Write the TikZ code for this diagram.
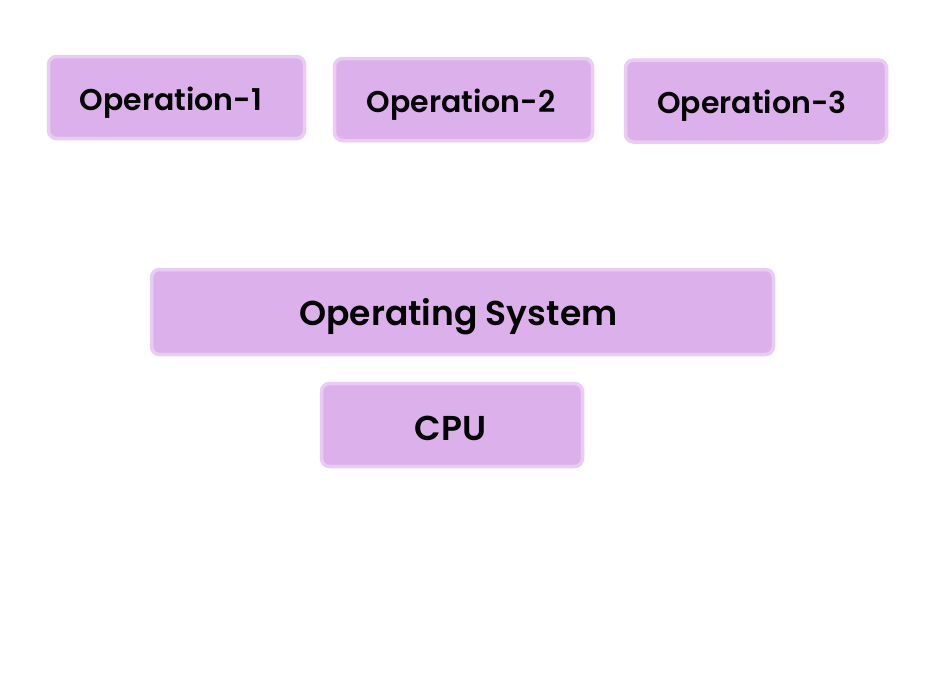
\documentclass[tikz,border=0pt]{standalone}
\usepackage{fontspec}
\setmainfont{Poppins}[UprightFont=*-SemiBold,BoldFont=*-Bold]
\definecolor{boxfill}{HTML}{DCB0EA}
\definecolor{boxline}{HTML}{E9CCF3}
\begin{document}
\begin{tikzpicture}[x=1pt,y=-1pt,
  opbox/.style={draw=boxline,fill=boxfill,line width=3.5pt,rounded corners=8pt,inner sep=0pt},
  optext/.style={anchor=base,inner sep=0pt,text=black,font=\fontsize{30}{34}\selectfont},
  bigtext/.style={anchor=base,inner sep=0pt,text=black,font=\fontsize{34.5}{38}\selectfont}]
\useasboundingbox (0,0) rectangle (943,680);
\fill[white] (0,0) rectangle (943,680);
\node[opbox,minimum width=256pt,minimum height=82pt] (op1) at (176.5,97.5) {};
\node[opbox,minimum width=258pt,minimum height=82pt] (op2) at (463.5,99.5) {};
\node[opbox,minimum width=261pt,minimum height=82pt] (op3) at (756,101) {};
\node[opbox,minimum width=622pt,minimum height=85pt] (os) at (462.5,312) {};
\node[opbox,minimum width=261pt,minimum height=83pt] (cpu) at (452,425) {};
\node[optext] (t1) at (171,110) {Operation-1};
\node[optext] (t2) at (461,112) {Operation-2};
\node[optext] (t3) at (752,113) {Operation-3};
\node[bigtext] (tos) at (458.5,325) {Operating System};
\node[bigtext] (tcpu) at (450.5,440) {CPU};
\end{tikzpicture}
\end{document}
